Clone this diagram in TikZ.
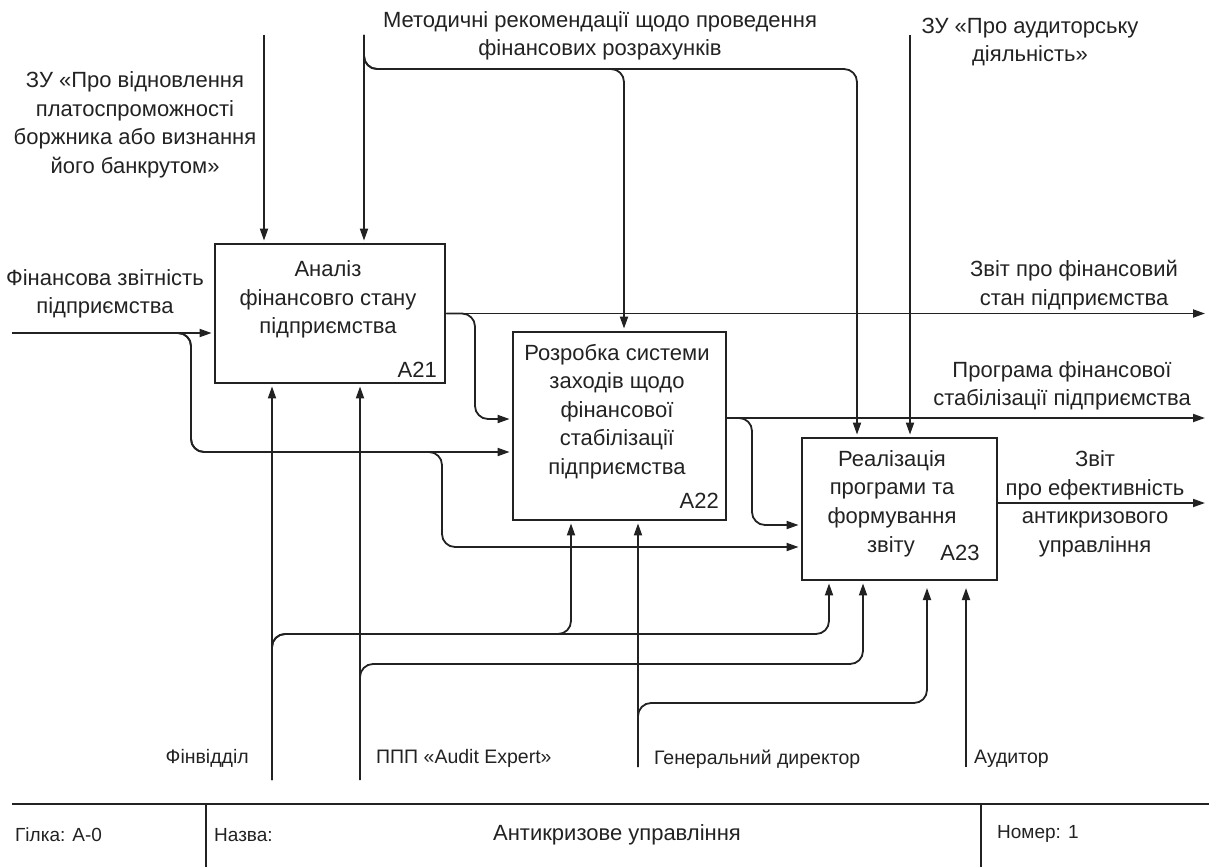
\documentclass[tikz,border=0pt]{standalone}
\usepackage{fontspec}
\setmainfont{Liberation Sans}
\usetikzlibrary{arrows.meta}
\definecolor{ink}{HTML}{222222}
\begin{document}
\begin{tikzpicture}[x=1pt,y=-1pt,
  box/.style={draw=ink, line width=2.8pt, inner sep=0pt},
  conn/.style={draw=ink, line width=1.8pt, rounded corners=13pt},
  arr/.style={-{Triangle[length=12pt,width=8pt]}, shorten >=2pt},
  txt/.style={text=ink, font=\fontsize{22}{28.5}\selectfont, align=center, inner sep=0pt},
  lbl/.style={text=ink, font=\fontsize{19.5}{24}\selectfont, inner sep=0pt},
  foot/.style={text=ink, font=\fontsize{19}{23}\selectfont, inner sep=0pt},
  footline/.style={draw=ink, line width=2.2pt}]
\useasboundingbox (0,0) rectangle (1209,867);

% activity boxes
\node[box, minimum width=230pt, minimum height=139pt] (a21) at (330,313.5) {};
\node[box, minimum width=213pt, minimum height=188pt] (a22) at (619.5,426) {};
\node[box, minimum width=195pt, minimum height=142pt] (a23) at (899.5,509) {};

% box texts
\node[txt] (t21) at (328,299.5) {Аналіз\\фінансовго стану\\підприємства};
\node[txt, anchor=east] (n21) at (437,370) {A21};
\node[txt] (t22) at (617,411.5) {Розробка системи\\заходів щодо\\фінансової\\стабілізації\\підприємства};
\node[txt, anchor=east] (n22) at (719,501) {A22};
\node[txt] (t23) at (892,489) {Реалізація\\програми та\\формування};
\node[txt] (t23b) at (891,547) {звіту};
\node[txt] (n23) at (960,553) {A23};

% free ends and bend points
\coordinate (inFin) at (12,333);
\coordinate (j1) at (191,452);
\coordinate (j2) at (442,547);
\coordinate (j3) at (475,419);
\coordinate (j4) at (752,525);
\coordinate (o1) at (1207,313.5);
\coordinate (o2) at (1207,418);
\coordinate (o3) at (1207,503);
\coordinate (c1) at (264,35);
\coordinate (c2) at (364,35);
\coordinate (c3) at (910,35);
\coordinate (m1) at (624,69);
\coordinate (m2) at (857,69);
\coordinate (b1) at (272,780);
\coordinate (b2) at (360,780);
\coordinate (b3) at (638,767);
\coordinate (b4) at (966,767);
\coordinate (k1) at (829,634);
\coordinate (k2) at (571,634);
\coordinate (k3) at (863,664);
\coordinate (k4) at (927,703);
\coordinate (t1) at (927,586);
\coordinate (t2) at (966,586);

% inputs
\draw[conn,arr] (inFin) -- (a21.west |- inFin);
\draw[conn,arr] (inFin) -| (j1) -- (a22.west |- j1);
\draw[conn,arr] (inFin) -| (j1) -| (j2) -- (a23.west |- j2);

% outputs
\draw[conn,arr] (a21.east) -- (o1);
\draw[conn,arr] (a21.east) -| (j3) -- (a22.west |- j3);
\draw[conn,arr] (a22.east |- o2) -- (o2);
\draw[conn,arr] (a22.east |- o2) -| (j4) -- (a23.west |- j4);
\draw[conn,arr] (a23.east |- o3) -- (o3);

% controls
\draw[conn,arr] (c1) -- (a21.north -| c1);
\draw[conn,arr] (c2) -- (a21.north -| c2);
\draw[conn,arr] (c2) |- (m1) -- (a22.north -| m1);
\draw[conn,arr] (c2) |- (m2) -- (a23.north -| m2);
\draw[conn,arr] (c3) -- (a23.north -| c3);

% mechanisms
\draw[conn,arr] (b1) -- (a21.south -| b1);
\draw[conn,arr] (b1) |- (k2) -- (a22.south -| k2);
\draw[conn,arr] (b1) |- (k1) -- (a23.south -| k1);
\draw[conn,arr] (b2) -- (a21.south -| b2);
\draw[conn,arr] (b2) |- (k3) -- (a23.south -| k3);
\draw[conn,arr] (b3) -- (a22.south -| b3);
\draw[conn,arr] (b3) |- (k4) -- (t1);
\draw[conn,arr] (b4) -- (t2);

% arrow labels
\node[txt] (lzu1) at (135,125) {ЗУ «Про відновлення\\платоспроможності\\боржника або визнання\\його банкрутом»};
\node[txt] (lmet) at (600,36) {Методичні рекомендації щодо проведення\\фінансових розрахунків};
\node[txt] (lzu2) at (1030,42) {ЗУ «Про аудиторську\\діяльність»};
\node[txt] (lfin) at (105,294) {Фінансова звітність\\підприємства};
\node[txt] (lo1) at (1074,285) {Звіт про фінансовий\\стан підприємства};
\node[txt] (lo2) at (1062,386) {Програма фінансової\\стабілізації підприємства};
\node[txt] (lo3) at (1095,504) {Звіт\\про ефективність\\антикризового\\управління};
\node[lbl, anchor=east] (mf) at (249,758) {Фінвідділ};
\node[lbl, anchor=west] (mp) at (376,758) {ППП «Audit Expert»};
\node[lbl, anchor=west] (mg) at (654,759) {Генеральний директор};
\node[lbl, anchor=west] (ma) at (974,759) {Аудитор};

% footer
\draw[footline] (12,804) -- (1209,804);
\draw[footline] (206,804) -- (206,867);
\draw[footline] (981,804) -- (981,867);
\node[foot, anchor=west] (f1) at (15,835) {Гілка: A-0};
\node[foot, anchor=west] (f2) at (214,835) {Назва:};
\node[txt] (f3) at (617,835) {Антикризове управління};
\node[foot, anchor=west] (f4) at (997,834) {Номер: 1};
\end{tikzpicture}
\end{document}
